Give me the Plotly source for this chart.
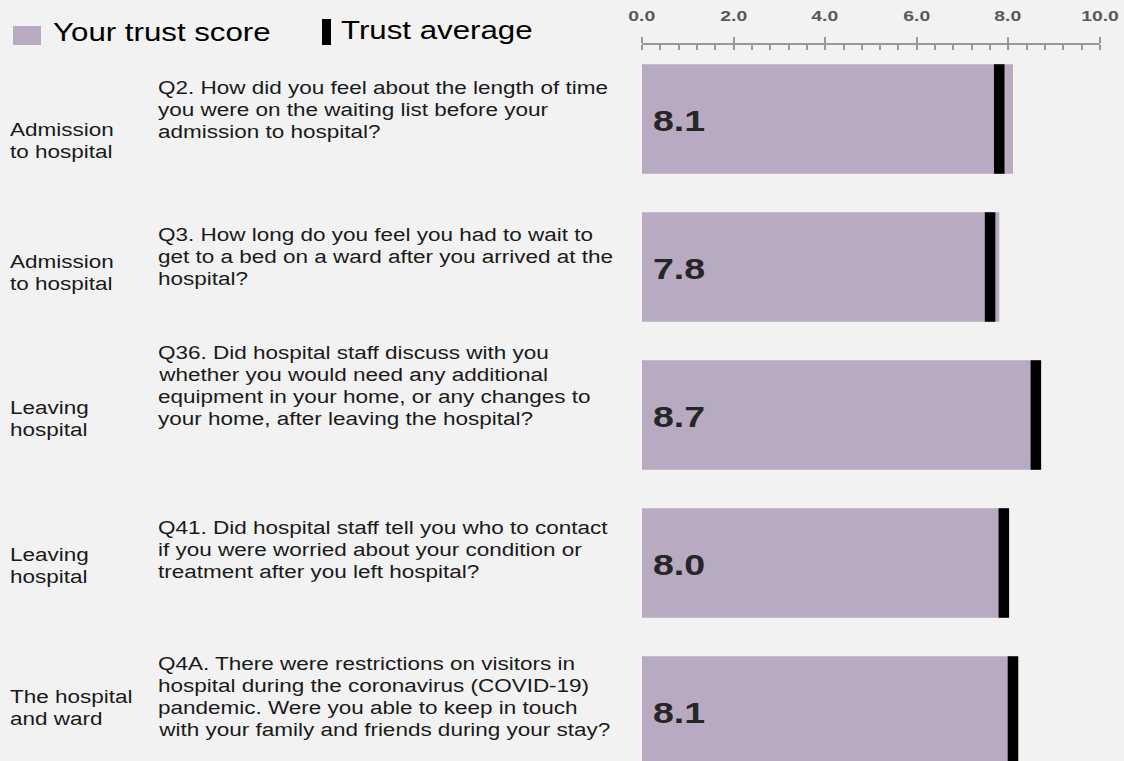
import plotly.graph_objects as go

# ---------------- data ----------------
sections = [
    ["Admission", "to hospital"],
    ["Admission", "to hospital"],
    ["Leaving", "hospital"],
    ["Leaving", "hospital"],
    ["The hospital", "and ward"],
]
questions = [
    ["Q2. How did you feel about the length of time",
     "you were on the waiting list before your",
     "admission to hospital?"],
    ["Q3. How long do you feel you had to wait to",
     "get to a bed on a ward after you arrived at the",
     "hospital?"],
    ["Q36. Did hospital staff discuss with you",
     "whether you would need any additional",
     "equipment in your home, or any changes to",
     "your home, after leaving the hospital?"],
    ["Q41. Did hospital staff tell you who to contact",
     "if you were worried about your condition or",
     "treatment after you left hospital?"],
    ["Q4A. There were restrictions on visitors in",
     "hospital during the coronavirus (COVID-19)",
     "pandemic. Were you able to keep in touch",
     "with your family and friends during your stay?"],
]
trust_score = [8.1, 7.8, 8.7, 8.0, 8.1]
trust_average = [7.8, 7.6, 8.6, 7.9, 8.1]
tick_vals = [0, 2, 4, 6, 8, 10]
tick_text = ["0.0", "2.0", "4.0", "6.0", "8.0", "10.0"]
legend_labels = ["Your trust score", "Trust average"]

# ---------------- style ----------------
W, H = 1124, 761
L, R, T, B = 642, 24, 45, 0
PW, PH = W - L - R, H - T - B
ROW_PX = 148
BAR_COLOR = "#b7aac1"
BG = "#f2f2f2"
BAR_W = 0.74
AVG_W = 0.23
FONT = "Liberation Sans, Arial, sans-serif"
TEXT_SIZE = 18
LINE_PX = 22
STRETCH = 1.25  # the reference text is drawn wide
# pixel offset of first text line from bar centre (style, per row)
Q_FIRST = [-31, -32, -62, -35, -47]
S_FIRST = [11, -5, -7, -8, -14]


def px_x(px):
    return (px - L) / PW


def px_y(py):
    return 1 - (py - T) / PH


rows = list(range(len(trust_score)))

fig = go.Figure()
fig.add_trace(go.Bar(
    x=trust_score, y=rows, orientation="h", width=BAR_W,
    marker=dict(color=BAR_COLOR, line=dict(width=0)),
    hoverinfo="x", showlegend=False,
))
fig.add_trace(go.Bar(
    x=[AVG_W] * len(trust_average), base=[a - AVG_W / 2 for a in trust_average],
    y=rows, orientation="h", width=BAR_W,
    marker=dict(color="#000000", line=dict(width=0)),
    hoverinfo="skip", showlegend=False,
))

annotations = []
for i, (sec, q, v) in enumerate(zip(sections, questions, trust_score)):
    for k, line in enumerate(sec):
        annotations.append(dict(x=px_x(8), xref="paper", y=i, yref="y", text=line,
                                yshift=-(S_FIRST[i] + k * LINE_PX),
                                xanchor="left", yanchor="middle", align="left", showarrow=False,
                                font=dict(family=FONT, size=TEXT_SIZE, color="#1a1a1a")))
    for k, line in enumerate(q):
        annotations.append(dict(x=px_x(156), xref="paper", y=i, yref="y", text=line,
                                yshift=-(Q_FIRST[i] + k * LINE_PX),
                                xanchor="left", yanchor="middle", align="left", showarrow=False,
                                font=dict(family=FONT, size=TEXT_SIZE, color="#1a1a1a")))
    annotations.append(dict(x=0, xref="x", y=i, yref="y", text=f"<b>{v:.1f}</b>",
                            xanchor="left", yanchor="middle", xshift=9, yshift=-1, showarrow=False,
                            font=dict(family=FONT, size=30, color="#262626")))

# tick labels (drawn as text on the x scale so they can be widened like the rest)
for tv, tt in zip(tick_vals, tick_text):
    annotations.append(dict(x=tv, xref="x", y=px_y(15), yref="paper", text=f"<b>{tt}</b>",
                            xanchor="center", yanchor="middle", showarrow=False,
                            font=dict(family=FONT, size=15.5, color="#595959")))

# legend
annotations.append(dict(x=px_x(51), xref="paper", y=px_y(32), yref="paper", text=legend_labels[0],
                        xanchor="left", yanchor="middle", showarrow=False,
                        font=dict(family=FONT, size=25, color="#000000")))
annotations.append(dict(x=px_x(339), xref="paper", y=px_y(30), yref="paper", text=legend_labels[1],
                        xanchor="left", yanchor="middle", showarrow=False,
                        font=dict(family=FONT, size=25, color="#000000")))
shapes = [
    dict(type="rect", xref="paper", yref="paper", x0=px_x(13), x1=px_x(41), y0=px_y(45), y1=px_y(26),
         fillcolor=BAR_COLOR, line=dict(width=0)),
    dict(type="rect", xref="paper", yref="paper", x0=px_x(322), x1=px_x(331), y0=px_y(45), y1=px_y(19),
         fillcolor="#000000", line=dict(width=0)),
]
# lower halves of major ticks (they cross the axis line)
for tv in tick_vals:
    shapes.append(dict(type="line", xref="x", yref="paper", x0=tv, x1=tv, y0=1, y1=1 - 5 / PH,
                       line=dict(color="#999999", width=1.5)))

fig.update_layout(
    width=W, height=H,
    margin=dict(l=L, r=R, t=T, b=B, pad=0),
    paper_bgcolor=BG, plot_bgcolor=BG,
    barmode="overlay",
    showlegend=False,
    annotations=annotations,
    shapes=shapes,
    xaxis=dict(side="top", range=[0, 10], tickvals=tick_vals, showticklabels=False,
               showline=True, linecolor="#999999", linewidth=1.5,
               ticks="outside", ticklen=6, tickcolor="#999999", tickwidth=1.5,
               minor=dict(dtick=0.4, ticks="inside", ticklen=5, tickcolor="#999999", tickwidth=1.5),
               showgrid=False, zeroline=False),
    yaxis=dict(range=[len(rows) - 0.5 + (PH - ROW_PX * len(rows)) / ROW_PX, -0.5],
               showticklabels=False, showgrid=False, zeroline=False, showline=False, ticks=""),
)

post = """
document.body.style.margin='0';
document.body.style.background='#f2f2f2';
var gd = document.getElementById('{plot_id}');
function widen(){
  gd.querySelectorAll('g.annotation').forEach(function(g){
    var i = +g.getAttribute('data-index');
    var a = gd.layout.annotations[i] || {};
    var o = a.xanchor === 'left' ? '0% 50%' : (a.xanchor === 'right' ? '100% 50%' : '50% 50%');
    var t = g.querySelector('text.annotation-text');
    if (t) {
      t.style.transformBox = 'fill-box';
      t.style.transformOrigin = o;
      t.style.transform = 'scaleX(%s)';
    }
  });
}
widen();
gd.on('plotly_afterplot', widen);
""".replace("%s", str(STRETCH))

fig.write_html("out.html", config={"displayModeBar": False}, post_script=post)
